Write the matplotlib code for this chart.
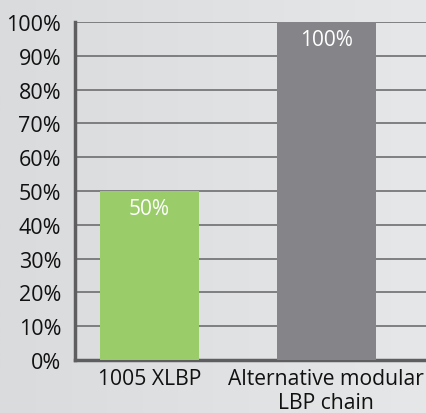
import matplotlib
matplotlib.use("Agg")
import matplotlib.pyplot as plt
import numpy as np
from matplotlib.colors import LinearSegmentedColormap

categories = ["1005 XLBP", "Alternative modular\nLBP chain"]
values = [50, 100]
value_labels = ["50%", "100%"]
yticks = [0, 10, 20, 30, 40, 50, 60, 70, 80, 90, 100]
ytick_labels = [f"{v}%" for v in yticks]
colors = ["#9ACD6A", "#858488"]

plt.rcParams['font.family'] = ['Open Sans', 'DejaVu Sans']

W, H = 427, 414
fig = plt.figure(figsize=(W/100, H/100), dpi=100)
bg = fig.add_axes([0, 0, 1, 1], zorder=-10)
grad = np.linspace(0, 1, 256)[None, :]
cmap = LinearSegmentedColormap.from_list("bg", ["#DADBDD", "#E6E7E8"])
bg.imshow(grad, aspect='auto', cmap=cmap, extent=[0, 1, 0, 1])
bg.axis('off')

ax = fig.add_axes([75/W, 1 - 361/H, (W - 75)/W, (361 - 23)/H])
ax.patch.set_alpha(0)
x = np.arange(len(categories))
ax.bar(x, values, width=0.56, color=colors, zorder=3)
for xi, v, lab in zip(x, values, value_labels):
    ax.text(xi, v - 2.0, lab, ha='center', va='top', color='white', fontsize=15, zorder=4)

ax.set_ylim(0, 100)
ax.set_xlim(-0.42, 1.57)
ax.set_yticks(yticks)
ax.set_yticklabels(ytick_labels, fontsize=15.5, color='#111111')
ax.set_xticks(x)
ax.set_xticklabels(categories, fontsize=15.2, linespacing=1.15, color='#111111')
ax.tick_params(axis='y', length=0, pad=10)
ax.tick_params(axis='x', length=0, pad=6)
ax.yaxis.grid(True, color='#6E6E70', linewidth=1.2, zorder=1)
ax.set_axisbelow(True)
for s in ['top', 'right']:
    ax.spines[s].set_visible(False)
ax.spines['left'].set_color('#5E5E60')
ax.spines['left'].set_linewidth(2.5)
ax.spines['bottom'].set_color('#5E5E60')
ax.spines['bottom'].set_linewidth(2.5)

fig.savefig("out.png", dpi=100)
